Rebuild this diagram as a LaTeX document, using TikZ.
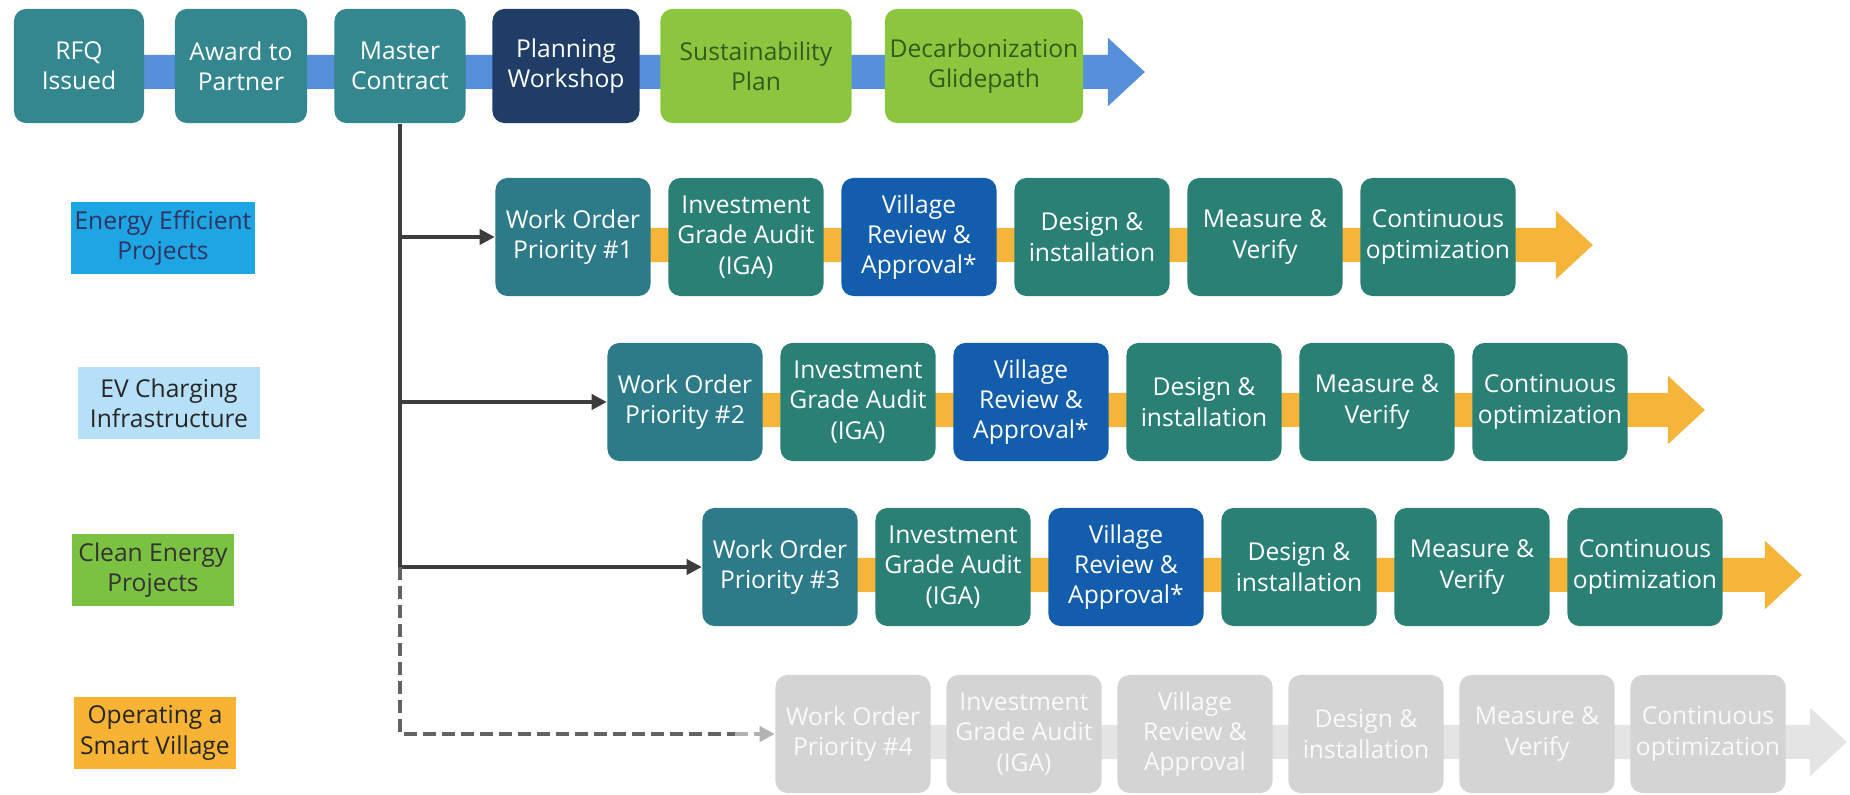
\documentclass[tikz,border=0pt]{standalone}
\usepackage{fontspec}
\setmainfont{Open Sans}
\usetikzlibrary{arrows.meta,backgrounds}
\definecolor{tealtop}{HTML}{34878F}
\definecolor{tealord}{HTML}{2D7A88}
\definecolor{tealrow}{HTML}{2B8076}
\definecolor{navy}{HTML}{1F3D66}
\definecolor{lime}{HTML}{8CC63F}
\definecolor{limetext}{HTML}{365A1E}
\definecolor{villblue}{HTML}{135DAD}
\definecolor{topband}{HTML}{5590D8}
\definecolor{orangeband}{HTML}{F5B53B}
\definecolor{fadebox}{HTML}{D4D4D4}
\definecolor{fadeband}{HTML}{E4E4E4}
\definecolor{trunkgray}{HTML}{3C3C3C}
\definecolor{laneA}{HTML}{1EA5E3}
\definecolor{laneB}{HTML}{B5E0F8}
\definecolor{laneC}{HTML}{7CC242}
\definecolor{laneD}{HTML}{F8B334}
\tikzset{
  stage/.style={rounded corners=0.12cm, minimum width=1.55cm, minimum height=1.18cm, align=center, text=white, inner sep=1pt, font=\fontsize{7}{8.6}\selectfont},
  order/.style={stage, fill=tealord},
  audit/.style={stage, fill=tealrow},
  review/.style={stage, fill=villblue},
  faded/.style={stage, fill=fadebox, text=white!96!gray},
  lane/.style={minimum height=0.71cm, align=center, inner sep=1pt, font=\fontsize{7}{8.6}\selectfont},
  band/.style={line width=0.34cm, -{Triangle[length=0.37cm,width=0.66cm]}},
  feed/.style={line width=0.035cm, draw=trunkgray, -{Triangle[length=0.15cm,width=0.15cm]}},
}
\begin{document}
\begin{tikzpicture}[x=0.01cm,y=-0.01cm]
\useasboundingbox (0,0) rectangle (1850,795);
\node (top-0) at (79,66) [stage, fill=tealtop, minimum width=1.30cm, minimum height=1.14cm] {RFQ\\Issued};
\node (top-1) at (241,66) [stage, fill=tealtop, minimum width=1.32cm, minimum height=1.14cm] {Award to\\Partner};
\node (top-2) at (400,66) [stage, fill=tealtop, minimum width=1.31cm, minimum height=1.14cm] {Master\\Contract};
\node (top-3) at (566,66) [stage, fill=navy, minimum width=1.47cm, minimum height=1.14cm] {Planning\\Workshop};
\node (top-4) at (756,66) [stage, fill=lime, text=limetext, minimum width=1.91cm, minimum height=1.14cm] {Sustainability\\Plan};
\node (top-5) at (984,66) [stage, fill=lime, text=limetext, minimum width=1.98cm, minimum height=1.14cm] {Decarbonization\\Glidepath};
\coordinate (tip-0) at (1145,72);
\node (lane-1) at (163,238) [lane, fill=laneA, text=black!70!blue!60!gray, minimum width=1.80cm] {Energy Efficient\\Projects};
\node (lane-2) at (169,403) [lane, fill=laneB, text=black!85, minimum width=1.81cm] {EV Charging\\Infrastructure};
\node (lane-3) at (153,570) [lane, fill=laneC, text=black!80, minimum width=1.61cm] {Clean Energy\\Projects};
\node (lane-4) at (155,733) [lane, fill=laneD, text=black!85, minimum width=1.62cm] {Operating a\\Smart Village};
\node (r1-0) at (573,237) [order] {Work Order\\Priority \#1};
\node (r1-1) at (746,237) [audit] {Investment\\Grade Audit\\(IGA)};
\node (r1-2) at (919,237) [review] {Village\\Review \&\\Approval*};
\node (r1-3) at (1092,237) [audit] {Design \&\\installation};
\node (r1-4) at (1265,237) [audit] {Measure \&\\Verify};
\node (r1-5) at (1438,237) [audit] {Continuous\\optimization};
\coordinate (tip-1) at (1593,245);
\node (r2-0) at (685,402) [order] {Work Order\\Priority \#2};
\node (r2-1) at (858,402) [audit] {Investment\\Grade Audit\\(IGA)};
\node (r2-2) at (1031,402) [review] {Village\\Review \&\\Approval*};
\node (r2-3) at (1204,402) [audit] {Design \&\\installation};
\node (r2-4) at (1377,402) [audit] {Measure \&\\Verify};
\node (r2-5) at (1550,402) [audit] {Continuous\\optimization};
\coordinate (tip-2) at (1705,410);
\node (r3-0) at (780,567) [order] {Work Order\\Priority \#3};
\node (r3-1) at (953,567) [audit] {Investment\\Grade Audit\\(IGA)};
\node (r3-2) at (1126,567) [review] {Village\\Review \&\\Approval*};
\node (r3-3) at (1299,567) [audit] {Design \&\\installation};
\node (r3-4) at (1472,567) [audit] {Measure \&\\Verify};
\node (r3-5) at (1645,567) [audit] {Continuous\\optimization};
\coordinate (tip-3) at (1802,575);
\node (r4-0) at (853,734) [faded] {Work Order\\Priority \#4};
\node (r4-1) at (1024,734) [faded] {Investment\\Grade Audit\\(IGA)};
\node (r4-2) at (1195,734) [faded] {Village\\Review \&\\Approval};
\node (r4-3) at (1366,734) [faded] {Design \&\\installation};
\node (r4-4) at (1537,734) [faded] {Measure \&\\Verify};
\node (r4-5) at (1708,734) [faded] {Continuous\\optimization};
\coordinate (tip-4) at (1847,742);
\begin{scope}[on background layer]
\draw[band, topband] ([yshift=-0.06cm]top-0.center) -- (tip-0);
\draw[band, orangeband] ([yshift=-0.08cm]r1-0.center) -- (tip-1);
\draw[band, orangeband] ([yshift=-0.08cm]r2-0.center) -- (tip-2);
\draw[band, orangeband] ([yshift=-0.08cm]r3-0.center) -- (tip-3);
\draw[band, fadeband] ([yshift=-0.08cm]r4-0.center) -- (tip-4);
\end{scope}
\coordinate (j-1) at (400,237);
\coordinate (j-2) at (400,402);
\coordinate (j-3) at (400,567);
\coordinate (j-4) at (400,734);
\coordinate (fade) at (735,734);
\draw[line width=0.035cm, trunkgray] (top-2.south) -- (j-3);
\draw[feed] (j-1) -- (r1-0);
\draw[feed] (j-2) -- (r2-0);
\draw[feed] (j-3) -- (r3-0);
\draw[line width=0.035cm, trunkgray!80, dash pattern=on 0.13cm off 0.06cm] (j-3) -- (j-4) -- (fade);
\draw[feed, draw=black!30, dash pattern=on 0.13cm off 0.06cm] (fade) -- (r4-0);
\end{tikzpicture}
\end{document}
